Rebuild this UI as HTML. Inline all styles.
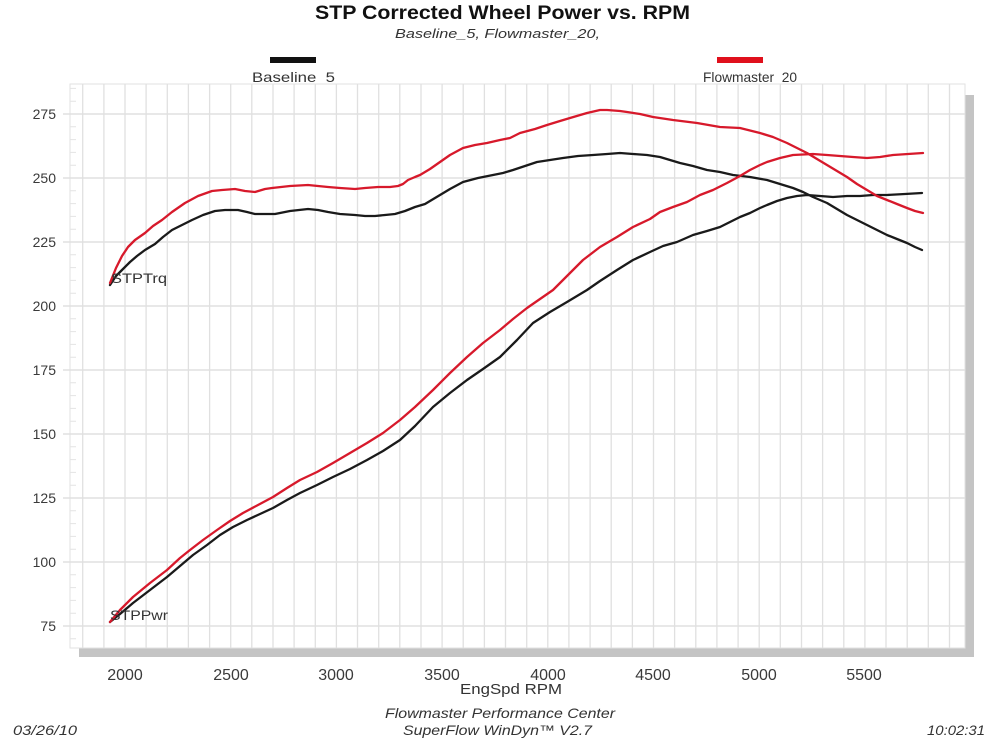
<!DOCTYPE html>
<html>
<head>
<meta charset="utf-8">
<style>
html,body{margin:0;padding:0;background:#fff;}
svg{display:block;}
text{font-family:"Liberation Sans", Arial, sans-serif;}
</style>
</head>
<body>
<svg width="1000" height="739" viewBox="0 0 1000 739" xmlns="http://www.w3.org/2000/svg">
<rect x="0" y="0" width="1000" height="739" fill="#ffffff"/>
<text x="315" y="19" font-size="19" font-weight="bold" textLength="375" lengthAdjust="spacingAndGlyphs" fill="#111">STP Corrected Wheel Power vs. RPM</text>
<text x="395" y="38" font-size="13" font-style="italic" textLength="205" lengthAdjust="spacingAndGlyphs" fill="#333">Baseline_5, Flowmaster_20,</text>
<rect x="270" y="57" width="46" height="6" fill="#111"/>
<rect x="717" y="57" width="46" height="6" fill="#e0101c"/>
<text x="252" y="82" font-size="14" textLength="83" lengthAdjust="spacingAndGlyphs" fill="#333">Baseline_5</text>
<text x="703" y="82" font-size="14" textLength="94" lengthAdjust="spacingAndGlyphs" fill="#333">Flowmaster_20</text>
<rect x="965" y="95" width="9" height="562" fill="#c4c4c4"/>
<rect x="79" y="648" width="895" height="9" fill="#c4c4c4"/>
<rect x="70" y="84" width="895" height="564" fill="#ffffff" stroke="#e2e2e2" stroke-width="1"/>
<path stroke="#e0e0e0" stroke-width="1.3" fill="none" d="M82.7 84V648M103.9 84V648M125 84V648M146.1 84V648M167.3 84V648M188.4 84V648M209.6 84V648M230.7 84V648M251.8 84V648M273 84V648M294.1 84V648M315.3 84V648M336.4 84V648M357.5 84V648M378.7 84V648M399.8 84V648M421 84V648M442.1 84V648M463.2 84V648M484.4 84V648M505.5 84V648M526.7 84V648M547.8 84V648M568.9 84V648M590.1 84V648M611.2 84V648M632.4 84V648M653.5 84V648M674.6 84V648M695.8 84V648M716.9 84V648M738.1 84V648M759.2 84V648M780.3 84V648M801.5 84V648M822.6 84V648M843.8 84V648M864.9 84V648M886 84V648M907.2 84V648M928.3 84V648M949.5 84V648"/>
<path stroke="#e0e0e0" stroke-width="1.5" fill="none" d="M63 114H965M63 178H965M63 242H965M63 306H965M63 370H965M63 434H965M63 498H965M63 562H965M63 626H965"/>
<path stroke="#e4e4e4" stroke-width="1" fill="none" d="M70 88.4h6M70 101.2h6M70 126.8h6M70 139.6h6M70 152.4h6M70 165.2h6M70 190.8h6M70 203.6h6M70 216.4h6M70 229.2h6M70 254.8h6M70 267.6h6M70 280.4h6M70 293.2h6M70 318.8h6M70 331.6h6M70 344.4h6M70 357.2h6M70 382.8h6M70 395.6h6M70 408.4h6M70 421.2h6M70 446.8h6M70 459.6h6M70 472.4h6M70 485.2h6M70 510.8h6M70 523.6h6M70 536.4h6M70 549.2h6M70 574.8h6M70 587.6h6M70 600.4h6M70 613.2h6M70 638.8h6"/>
<g font-size="14" text-anchor="end" fill="#3a3a3a">
<text x="56" y="119">275</text>
<text x="56" y="183">250</text>
<text x="56" y="247">225</text>
<text x="56" y="311">200</text>
<text x="56" y="375">175</text>
<text x="56" y="439">150</text>
<text x="56" y="503">125</text>
<text x="56" y="567">100</text>
<text x="56" y="631">75</text>
</g>
<g font-size="16" text-anchor="middle" fill="#3a3a3a">
<text x="125" y="680">2000</text>
<text x="231" y="680">2500</text>
<text x="336" y="680">3000</text>
<text x="442" y="680">3500</text>
<text x="548" y="680">4000</text>
<text x="653" y="680">4500</text>
<text x="759" y="680">5000</text>
<text x="864" y="680">5500</text>
</g>
<text x="460" y="694" font-size="15" textLength="102" lengthAdjust="spacingAndGlyphs" fill="#333">EngSpd RPM</text>
<text x="385" y="718" font-size="14" font-style="italic" textLength="230" lengthAdjust="spacingAndGlyphs" fill="#333">Flowmaster Performance Center</text>
<text x="403" y="735" font-size="14" font-style="italic" textLength="189" lengthAdjust="spacingAndGlyphs" fill="#333">SuperFlow WinDyn™ V2.7</text>
<text x="13" y="735" font-size="14" font-style="italic" textLength="64" lengthAdjust="spacingAndGlyphs" fill="#333">03/26/10</text>
<text x="927" y="735" font-size="14" font-style="italic" textLength="58" lengthAdjust="spacingAndGlyphs" fill="#333">10:02:31</text>
<g fill="none" stroke-width="2.3" stroke-linejoin="round" stroke-linecap="round">
<polyline stroke="#1a1a1a" points="110,285 116,276 122,270 130,262 137,256 145,250 155,244 163,237 172,230 182,225 192,220 203,215 215,211 225,210 238,210 247,212 255,214 265,214 275,214 290,211 308,209 318,210 328,212 340,214 355,215 365,216 375,216 385,215 395,214 405,211 415,207 425,204 435,198 440,195 450,189 463,182 478,178 493,175 503,173 513,170 525,166 537,162 550,160 563,158 578,156 593,155 607,154 620,153 633,154 647,155 660,157 670,160 680,163 693,166 707,170 720,172 733,175 750,177 767,180 780,184 793,188 803,192 813,197 827,203 837,209 847,215 857,220 867,225 877,230 887,235 897,239 907,243 915,247 922,250"/>
<polyline stroke="#1a1a1a" points="110,622 120,614 133,603 150,590 167,577 180,566 193,555 207,545 220,535 233,527 247,520 260,514 273,508 287,500 300,493 317,485 333,477 350,469 367,460 383,451 400,440 415,426 433,407 450,393 467,380 483,369 500,357 517,340 533,323 550,312 567,302 587,290 600,281 617,270 633,260 650,252 663,246 677,242 693,235 707,231 720,227 730,222 740,217 750,213 760,208 767,205 777,201 787,198 797,196 807,195 820,196 833,197 847,196 860,196 873,195 887,195 905,194 922,193"/>
<polyline stroke="#d7192b" points="110,283 116,268 122,256 128,247 135,240 145,233 153,226 162,220 172,212 185,203 198,196 212,191 222,190 235,189 245,191 255,192 265,189 272,188 290,186 308,185 318,186 328,187 340,188 355,189 365,188 378,187 390,187 398,186 403,184 408,180 415,177 420,175 430,169 440,162 450,155 463,148 475,145 487,143 500,140 510,138 520,133 535,129 547,125 560,121 570,118 587,113 600,110 607,110 620,111 627,112 640,114 653,117 673,120 697,123 720,127 740,128 760,133 773,137 787,143 797,148 807,153 817,159 827,165 837,171 847,177 857,184 867,190 877,196 887,200 897,204 907,208 915,211 923,213"/>
<polyline stroke="#d7192b" points="110,622 120,610 133,597 150,583 167,570 180,558 190,550 203,540 217,530 230,521 243,513 258,505 273,497 287,488 300,480 317,472 333,463 350,453 367,443 383,433 400,420 415,407 433,390 450,373 467,357 483,343 500,330 513,319 527,308 540,299 553,290 568,275 583,260 600,247 617,237 633,227 650,219 660,212 673,207 687,202 700,195 713,190 727,183 740,176 750,170 760,165 767,162 780,158 793,155 813,154 827,155 840,156 853,157 867,158 880,157 893,155 908,154 923,153"/>
</g>
<text x="111" y="283" font-size="14" fill="#333" textLength="56" lengthAdjust="spacingAndGlyphs">STPTrq</text>
<text x="110" y="620" font-size="14" fill="#333" textLength="58" lengthAdjust="spacingAndGlyphs">STPPwr</text>
</svg>
</body>
</html>
